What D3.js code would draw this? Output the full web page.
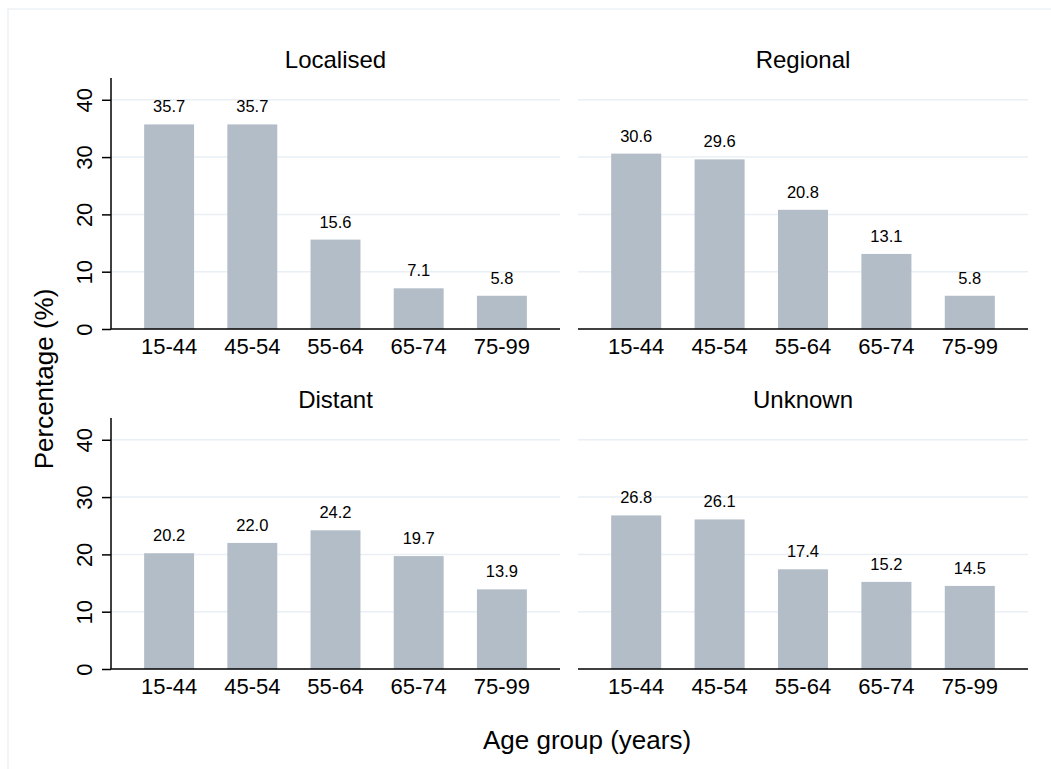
<!DOCTYPE html>
<html>
<head>
<meta charset="utf-8">
<script src="https://cdn.jsdelivr.net/npm/d3@7"></script>
<style>
  body { margin: 0; background: #fff; }
  text { font-family: "Liberation Sans", Arial, sans-serif; fill: #000; }
</style>
</head>
<body>
<div id="chart"></div>
<script>
var ageGroups = ["15-44", "45-54", "55-64", "65-74", "75-99"];
var panelTitles = ["Localised", "Regional", "Distant", "Unknown"];
var localised = [35.7, 35.7, 15.6, 7.1, 5.8];
var regional = [30.6, 29.6, 20.8, 13.1, 5.8];
var distant = [20.2, 22.0, 24.2, 19.7, 13.9];
var unknown = [26.8, 26.1, 17.4, 15.2, 14.5];
var yTicks = [0, 10, 20, 30, 40];

var series = [localised, regional, distant, unknown];

var width = 1051, height = 769,
    barColor = "#b2bdc8",
    gridColor = "#e9eff4";

var svg = d3.select("#chart").append("svg")
    .attr("width", width)
    .attr("height", height);

// faint outer frame
svg.append("rect")
    .attr("x", 8).attr("y", 9)
    .attr("width", width + 10).attr("height", height + 10)
    .attr("fill", "none")
    .attr("stroke", "#eef2f5")
    .attr("stroke-width", 1.5);

// panel geometry: left edge, right edge, baseline y
var cols = [{x0: 111, x1: 560}, {x0: 578, x1: 1028}];
var rows = [{base: 329}, {base: 669}];
var plotH = 251; // from baseline to top of axis

var y = d3.scaleLinear().domain([0, 43.8]).range([plotH, 0]);

panelTitles.forEach(function(title, i) {
  var c = cols[i % 2], r = rows[Math.floor(i / 2)];
  var w = c.x1 - c.x0;
  var g = svg.append("g")
      .attr("transform", "translate(" + c.x0 + "," + (r.base - plotH) + ")");

  var x = d3.scaleBand().domain(ageGroups)
      .range([16.5, w - 16.5])
      .paddingInner(0.4)
      .paddingOuter(0.2);

  // grid lines
  g.selectAll(".grid").data(yTicks.slice(1))
    .enter().append("line")
      .attr("x1", 0).attr("x2", w)
      .attr("y1", function(d) { return y(d); })
      .attr("y2", function(d) { return y(d); })
      .attr("stroke", gridColor)
      .attr("stroke-width", 1.5);

  // bars
  var data = series[i];
  g.selectAll(".bar").data(data)
    .enter().append("rect")
      .attr("x", function(d, j) { return x(ageGroups[j]); })
      .attr("width", x.bandwidth())
      .attr("y", function(d) { return y(d); })
      .attr("height", function(d) { return y(0) - y(d); })
      .attr("fill", barColor);

  // value labels
  g.selectAll(".val").data(data)
    .enter().append("text")
      .attr("x", function(d, j) { return x(ageGroups[j]) + x.bandwidth() / 2; })
      .attr("y", function(d) { return y(d) - 12; })
      .attr("text-anchor", "middle")
      .style("font-size", "16.5px")
      .text(function(d) { return d3.format(".1f")(d); });

  // x axis
  var xAxis = g.append("g")
      .attr("transform", "translate(0," + plotH + ")")
      .call(d3.axisBottom(x).tickSize(0).tickPadding(10));
  xAxis.select(".domain").attr("d", "M0,0H" + w).attr("stroke", "#000").attr("stroke-width", 1.5);
  xAxis.selectAll("text").style("font-size", "22px").attr("dy", "0.71em").attr("y", 9);

  // y axis only on left column
  if (i % 2 === 0) {
    var yAxis = g.append("g")
      .call(d3.axisLeft(y).tickValues(yTicks).tickSize(9).tickPadding(0));
    yAxis.select(".domain").attr("d", "M0,0V" + plotH).attr("stroke", "#000").attr("stroke-width", 1.5);
    yAxis.selectAll(".tick line").attr("stroke", "#000").attr("stroke-width", 1.5);
    yAxis.selectAll("text")
      .style("font-size", "22px")
      .attr("x", null).attr("dy", null)
      .attr("text-anchor", "middle")
      .attr("transform", "translate(-19,0) rotate(-90)")
      .attr("y", 0);
  }

  // panel title
  svg.append("text")
      .attr("x", c.x0 + w / 2)
      .attr("y", r.base - plotH - 10)
      .attr("text-anchor", "middle")
      .style("font-size", "24px")
      .text(title);
});

// axis titles
svg.append("text")
    .attr("x", 587).attr("y", 749)
    .attr("text-anchor", "middle")
    .style("font-size", "26px")
    .text("Age group (years)");

svg.append("text")
    .attr("transform", "translate(53,379) rotate(-90)")
    .attr("text-anchor", "middle")
    .style("font-size", "26px")
    .text("Percentage (%)");
</script>
</body>
</html>
